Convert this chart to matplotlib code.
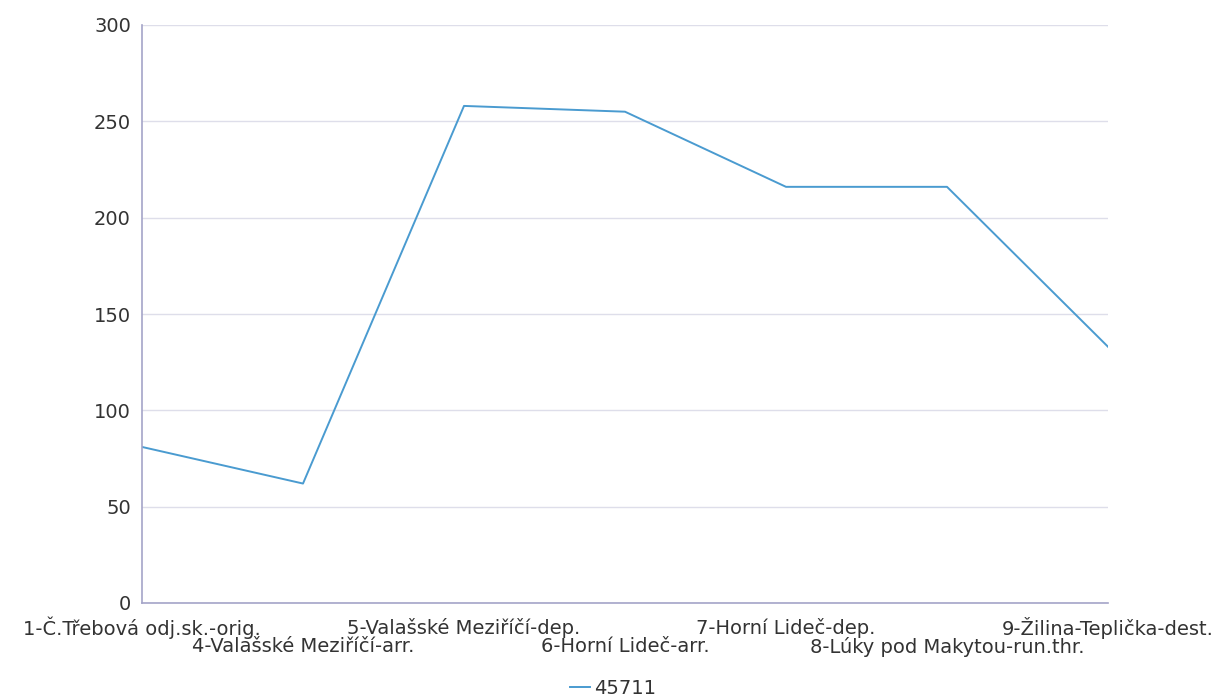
import matplotlib
matplotlib.use("Agg")
import matplotlib.pyplot as plt

# --- data ---
stations = [
    "1-Č.Třebová odj.sk.-orig.",
    "4-Valašské Meziříčí-arr.",
    "5-Valašské Meziříčí-dep.",
    "6-Horní Lideč-arr.",
    "7-Horní Lideč-dep.",
    "8-Lúky pod Makytou-run.thr.",
    "9-Žilina-Teplička-dest.",
]
values = [81, 62, 258, 255, 216, 216, 133]
series_name = "45711"
y_ticks = [0, 50, 100, 150, 200, 250, 300]

line_color = "#4a9bd0"
axis_color = "#a4a4c8"
grid_color = "#dedeea"
text_color = "#333333"
fsize = 14

W, H = 1231, 698
fig = plt.figure(figsize=(W / 100, H / 100), dpi=100)
ax = fig.add_axes([142 / W, (H - 603) / H, (1108 - 142) / W, (603 - 25) / H])

x = list(range(len(stations)))
line, = ax.plot(x, values, color=line_color, linewidth=1.4, label=series_name)

ax.set_xlim(0, len(stations) - 1)
ax.set_ylim(0, 300)
ax.set_yticks(y_ticks)
ax.set_yticklabels([str(t) for t in y_ticks])
ax.tick_params(axis="y", length=0, pad=8, labelsize=fsize, labelcolor=text_color)
ax.grid(axis="y", color=grid_color, linewidth=1)
ax.set_axisbelow(True)

for side in ["top", "right"]:
    ax.spines[side].set_visible(False)
ax.spines["left"].set_color(axis_color)
ax.spines["bottom"].set_color(axis_color)
ax.spines["left"].set_linewidth(1.2)
ax.spines["bottom"].set_linewidth(1.2)

# staggered category labels
ax.set_xticks(x)
ax.set_xticklabels([])
ax.tick_params(axis="x", length=0)
for i, name in enumerate(stations):
    offset = -25 if i % 2 == 0 else -44
    ax.annotate(name, xy=(i, 0), xycoords=("data", "axes fraction"),
                xytext=(0, offset), textcoords="offset pixels",
                ha="center", va="center", fontsize=fsize, color=text_color,
                annotation_clip=False)

fig.legend(handles=[line], loc="center", bbox_to_anchor=(613 / W, 1 - 688 / H),
           frameon=False, fontsize=fsize, handlelength=1.0, handletextpad=0.2,
           labelcolor=text_color)

fig.savefig("out.png", dpi=100, facecolor="white")
